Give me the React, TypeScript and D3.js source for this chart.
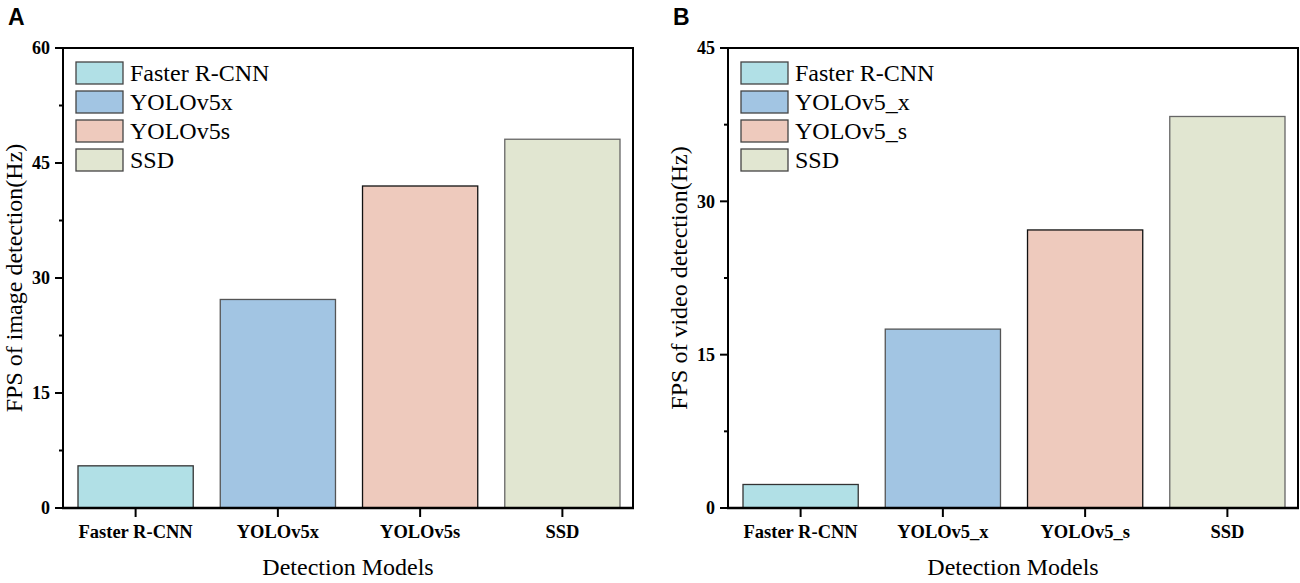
import React, { useEffect, useRef } from 'react';
import * as d3 from 'd3';

// values
const modelsA = ['Faster R-CNN', 'YOLOv5x', 'YOLOv5s', 'SSD'];
const modelsB = ['Faster R-CNN', 'YOLOv5_x', 'YOLOv5_s', 'SSD'];
const imageFps = [5.5, 27.2, 42.0, 48.1];
const videoFps = [2.3, 17.5, 27.2, 38.3];
const ticksA = [0, 15, 30, 45, 60];
const ticksB = [0, 15, 30, 45];
const fills = ['#b1e0e6', '#a2c5e3', '#eecabd', '#e1e6d1'];
const strokes = ['#333333', '#555555', '#111111', '#666666'];

const serif = "'Liberation Serif', 'Times New Roman', Times, 'DejaVu Serif', serif";
const sans = "'Liberation Sans', Arial, sans-serif";

const drawPanel = (svg, opts) => {
  const { left, letter, models, values, ticks, yTitle } = opts;
  const right = left + 570;
  const top = 48;
  const bottom = 508;
  const yMax = ticks[ticks.length - 1];

  const g = svg.append('g').attr('font-family', serif);

  const x = d3.scaleBand().domain(models).range([left + 15, right - 13]).paddingInner(0.19).paddingOuter(0);
  const y = d3.scaleLinear().domain([0, yMax]).range([bottom, top]);

  // bars
  g.selectAll('rect.bar')
    .data(values)
    .enter()
    .append('rect')
    .attr('x', (d, i) => x(models[i]))
    .attr('y', d => y(d))
    .attr('width', x.bandwidth())
    .attr('height', d => bottom - y(d))
    .attr('fill', (d, i) => fills[i])
    .attr('stroke', (d, i) => strokes[i])
    .attr('stroke-width', 1.3);

  // frame
  g.append('path')
    .attr('d', `M${left},${bottom}V${top}H${right}V${bottom}`)
    .attr('fill', 'none')
    .attr('stroke', '#000')
    .attr('stroke-width', 2);
  g.append('line')
    .attr('x1', left - 1).attr('x2', right + 1)
    .attr('y1', bottom).attr('y2', bottom)
    .attr('stroke', '#000').attr('stroke-width', 2.6);

  // y axis ticks
  const minor = d3.range(0, ticks.length - 1).map(i => (ticks[i] + ticks[i + 1]) / 2);
  g.selectAll('line.major')
    .data(ticks)
    .enter()
    .append('line')
    .attr('x1', left - 8).attr('x2', left)
    .attr('y1', d => y(d)).attr('y2', d => y(d))
    .attr('stroke', '#000').attr('stroke-width', 2);
  g.selectAll('line.minor')
    .data(minor)
    .enter()
    .append('line')
    .attr('x1', left - 4).attr('x2', left)
    .attr('y1', d => y(d)).attr('y2', d => y(d))
    .attr('stroke', '#000').attr('stroke-width', 2);
  g.selectAll('text.ytick')
    .data(ticks)
    .enter()
    .append('text')
    .attr('x', left - 13)
    .attr('y', d => y(d))
    .attr('dy', '0.35em')
    .attr('text-anchor', 'end')
    .attr('font-family', serif)
    .attr('font-weight', 'bold')
    .attr('font-size', 18)
    .text(d => d);

  // x axis ticks
  g.selectAll('line.xtick')
    .data(models)
    .enter()
    .append('line')
    .attr('x1', d => x(d) + x.bandwidth() / 2)
    .attr('x2', d => x(d) + x.bandwidth() / 2)
    .attr('y1', bottom).attr('y2', bottom + 9)
    .attr('stroke', '#000').attr('stroke-width', 2);
  g.selectAll('text.xtick')
    .data(models)
    .enter()
    .append('text')
    .attr('x', d => x(d) + x.bandwidth() / 2)
    .attr('y', bottom + 30)
    .attr('text-anchor', 'middle')
    .attr('font-family', serif)
    .attr('font-weight', 'bold')
    .attr('font-size', 18.5)
    .text(d => d);

  // axis titles
  g.append('text')
    .attr('x', (left + right) / 2)
    .attr('y', bottom + 67)
    .attr('text-anchor', 'middle')
    .attr('font-family', serif)
    .attr('font-size', 24)
    .text('Detection Models');
  g.append('text')
    .attr('transform', `translate(${left - 41},${(top + bottom) / 2}) rotate(-90)`)
    .attr('text-anchor', 'middle')
    .attr('font-family', serif)
    .attr('font-size', 24)
    .text(yTitle);

  // legend
  const leg = g.selectAll('g.leg')
    .data(models)
    .enter()
    .append('g')
    .attr('transform', (d, i) => `translate(${left + 13},${62 + i * 29})`);
  leg.append('rect')
    .attr('width', 47).attr('height', 22)
    .attr('fill', (d, i) => fills[i])
    .attr('stroke', '#444').attr('stroke-width', 1.3);
  leg.append('text')
    .attr('x', 54).attr('y', 19)
    .attr('font-family', serif)
    .attr('font-size', 24)
    .text(d => d);

  // panel letter
  g.append('text')
    .attr('x', left - 55)
    .attr('y', 25)
    .attr('font-family', sans)
    .attr('font-weight', 'bold')
    .attr('font-size', 23)
    .text(letter);
};

const App = () => {
  const svgRef = useRef(null);

  useEffect(() => {
    const svg = d3.select(svgRef.current);
    svg.selectAll('*').remove();
    drawPanel(svg, { left: 63, letter: 'A', models: modelsA, values: imageFps, ticks: ticksA, yTitle: 'FPS of image detection(Hz)' });
    drawPanel(svg, { left: 728, letter: 'B', models: modelsB, values: videoFps, ticks: ticksB, yTitle: 'FPS of video detection(Hz)' });
  }, []);

  return (
    <svg
      ref={svgRef}
      width={1300}
      height={583}
      style={{ position: 'absolute', left: 0, top: 0, background: '#fff' }}
    />
  );
};

export default App;
